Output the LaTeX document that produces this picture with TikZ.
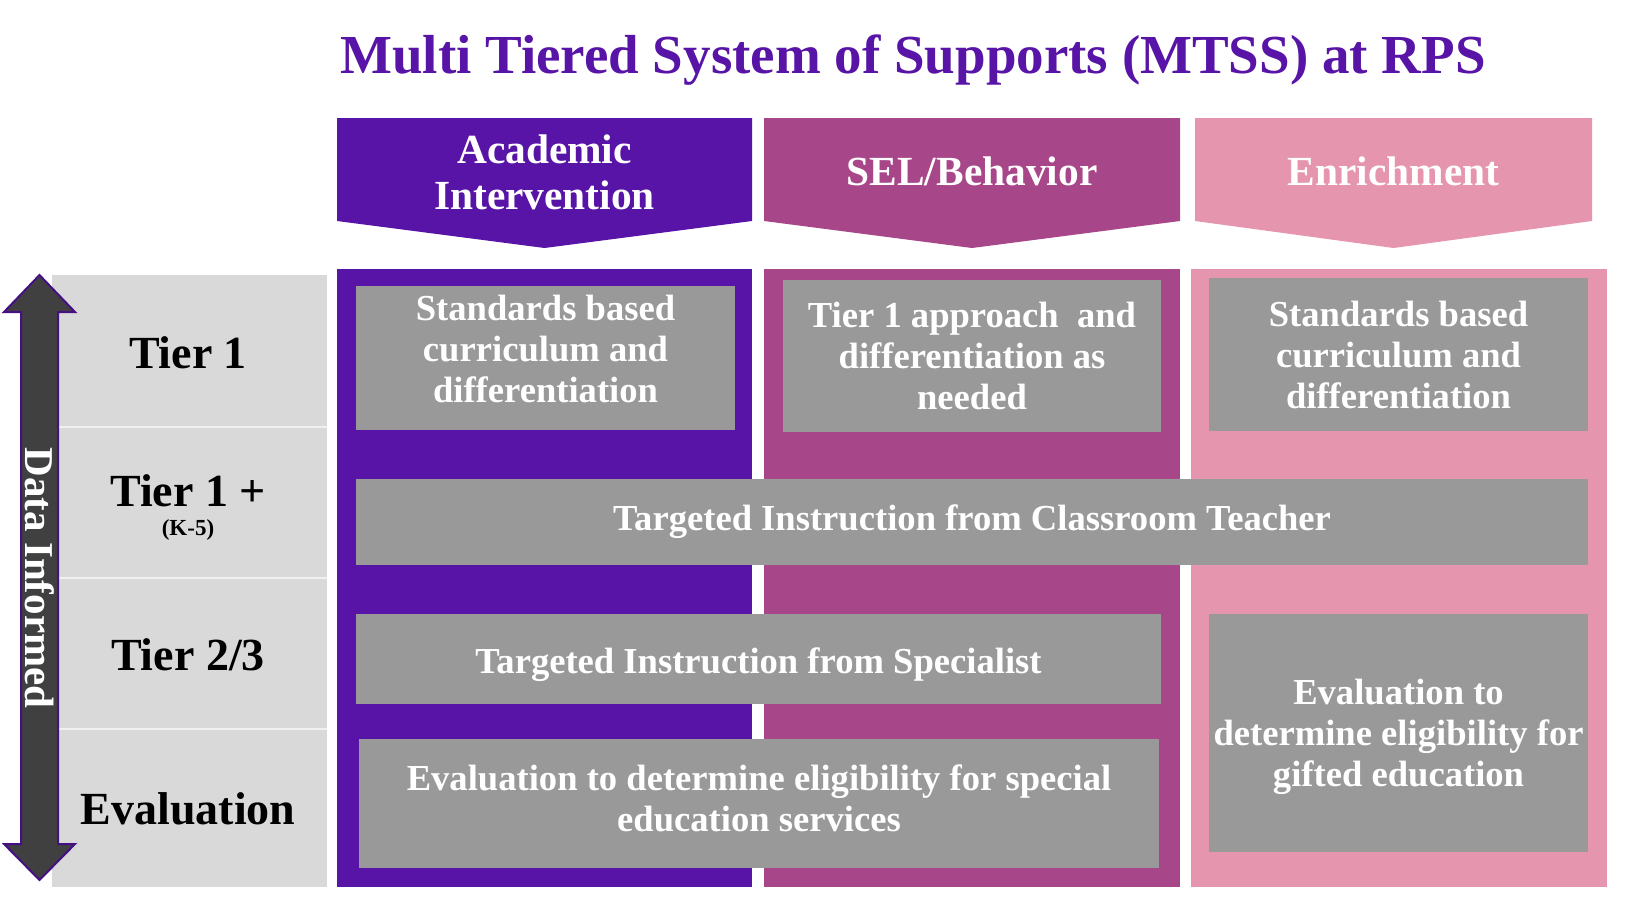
\documentclass[tikz,border=0pt]{standalone}
\usepackage{fontspec}
\setmainfont{Liberation Serif}
\definecolor{mtpurple}{RGB}{88,20,166}
\definecolor{selplum}{RGB}{168,70,138}
\definecolor{enrpink}{RGB}{229,150,174}
\definecolor{boxgray}{RGB}{153,153,153}
\definecolor{tiergray}{RGB}{217,217,217}
\definecolor{arrowdark}{RGB}{64,64,64}
\tikzset{
  gbox/.style={fill=boxgray,text=white,inner sep=0pt,align=center,
    font=\bfseries\fontsize{18.3}{20.5}\selectfont},
  headlbl/.style={text=white,align=center,font=\bfseries\fontsize{20.7}{23}\selectfont},
  tierlbl/.style={text=black,font=\bfseries\fontsize{23}{27}\selectfont},
}
\begin{document}
\begin{tikzpicture}[x=0.5pt,y=-0.5pt]
\useasboundingbox (0,0) rectangle (1641,911);
% title
\node[text=mtpurple,font=\bfseries\fontsize{27.5}{32}\selectfont] (title) at (913,60)
  {Multi Tiered System of Supports (MTSS) at RPS};
% column headers
\fill[mtpurple] (337,118)--(752,118)--(752,221)--(544.5,248)--(337,221)--cycle;
\fill[selplum] (764,118)--(1180,118)--(1180,221)--(972,248)--(764,221)--cycle;
\fill[enrpink] (1195,118)--(1592,118)--(1592,221)--(1393.5,248)--(1195,221)--cycle;
\node[headlbl] (acad) at (544.5,172) {Academic\\Intervention};
\node[headlbl] (sel) at (972,171) {SEL/Behavior};
\node[headlbl] (enr) at (1393.5,171) {Enrichment};
% column bodies
\fill[mtpurple] (337,269) rectangle (752,887);
\fill[selplum] (764,269) rectangle (1180,887);
\fill[enrpink] (1191,269) rectangle (1607,887);
% tiers
\fill[tiergray] (52,275) rectangle (327,887);
\foreach \y in {427,578,729}
  \draw[white!60!tiergray,line width=0.6pt] (52,\y)--(327,\y);
\node[tierlbl] (t1) at (188,353) {Tier 1};
\node[tierlbl] (t1p) at (188,491) {Tier 1 +};
\node[text=black,font=\bfseries\fontsize{11.5}{13}\selectfont] (k5) at (188,530) {(K-5)};
\node[tierlbl] (t23) at (188,655) {Tier 2/3};
\node[tierlbl] (ev) at (188,809) {Evaluation};
% data arrow
\draw[fill=arrowdark,draw=mtpurple!80!black,line width=1pt]
  (39.5,275)--(75,312)--(58,312)--(58,844)--(75,844)--(39.5,880)
  --(4,844)--(21,844)--(21,312)--(4,312)--cycle;
\node[rotate=-90,text=white,font=\bfseries\fontsize{20.5}{23}\selectfont] (data) at (39.5,578)
  {Data Informed};
% boxes
\node[gbox,minimum width=189.5pt,minimum height=72pt] (std1) at (545.5,358)
  {Standards based\\curriculum and\\differentiation\\[-11.5pt]};
\node[gbox,minimum width=189pt,minimum height=76pt] (sel1) at (972,356)
  {Tier 1 approach~ and\\differentiation as\\needed};
\node[gbox,minimum width=189.5pt,minimum height=76.5pt] (enr1) at (1398.5,354.5)
  {Standards based\\curriculum and\\differentiation};
\node[gbox,minimum width=616pt,minimum height=43pt] (classroom) at (972,522)
  {Targeted Instruction from Classroom Teacher};
\node[gbox,minimum width=402.5pt,minimum height=45pt,text height=18pt,text depth=4pt]
  (specialist) at (758.5,659) {Targeted Instruction from Specialist};
\node[gbox,minimum width=400pt,minimum height=64.5pt] (sped) at (759,803.5)
  {Evaluation to determine eligibility for special\\education services\\[-15.5pt]};
\node[gbox,minimum width=189.5pt,minimum height=119pt] (gifted) at (1398.5,733)
  {\\[-4pt]Evaluation to\\determine eligibility for\\gifted education};
\end{tikzpicture}
\end{document}
